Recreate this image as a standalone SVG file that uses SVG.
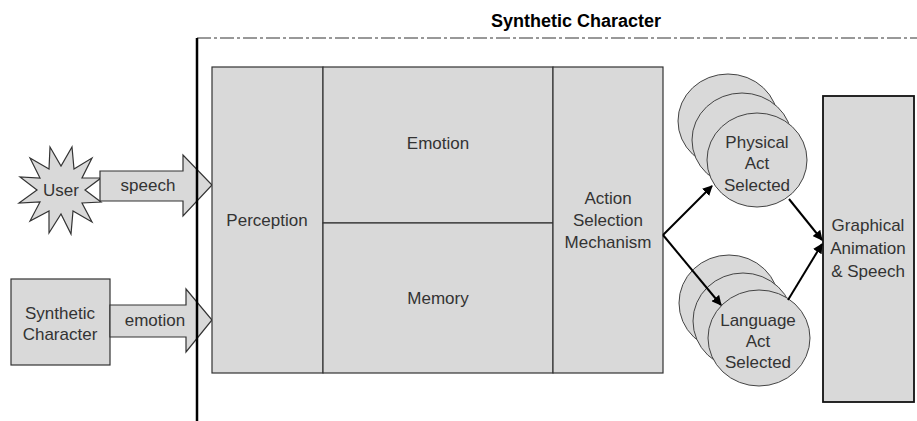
<svg xmlns="http://www.w3.org/2000/svg" width="917" height="421" viewBox="0 0 917 421">
<defs>
<style>
.box{fill:#d9d9d9;stroke:#333;stroke-width:1.2}
.t{font-family:"Liberation Sans",Arial,sans-serif;font-size:17px;fill:#333;text-anchor:middle}
.title{font-family:"Liberation Sans",Arial,sans-serif;font-size:18px;font-weight:bold;fill:#000;text-anchor:middle}
.conn{stroke:#000;stroke-width:2;fill:none;marker-end:url(#ah)}
.circ{fill:#d9d9d9;stroke:#444;stroke-width:1}
</style>
<marker id="ah" viewBox="0 0 10 10" refX="9" refY="5" markerWidth="5" markerHeight="5" orient="auto" markerUnits="strokeWidth">
<path d="M0,0 L10,5 L0,10 z" fill="#000"/>
</marker>
</defs>
<rect width="917" height="421" fill="#fff"/>

<g id="frame">
<text class="title" x="576" y="27" textLength="170" lengthAdjust="spacingAndGlyphs">Synthetic Character</text>
<line x1="197" y1="38" x2="917" y2="38" stroke="#333" stroke-width="1" stroke-dasharray="14 3 3 3"/>
</g>

<g id="user">
<polygon class="box" points="72,147 74,169 92,158 82,178 101,178 85,190 101,202 82,203 92,222 73,211 71,234 61,214 49,233 49,211 30,221 40,202 19,203 37,190 20,177 40,178 30,158 49,169 50,147 61,166"/>
<text class="t" x="61" y="196">User</text>
</g>

<g id="synthetic-character-ext">
<rect class="box" x="11" y="279" width="99" height="86"/>
<text class="t" x="60" y="319">Synthetic</text>
<text class="t" x="60" y="340">Character</text>
</g>

<g id="speech">
<polygon class="box" points="100,171 183,171 183,155 212,185 183,216 183,201 100,201"/>
<text class="t" x="148" y="191">speech</text>
</g>

<g id="emotion-input">
<polygon class="box" points="110,305 186,305 186,289 212,320 186,352 186,337 110,337"/>
<text class="t" x="155" y="326">emotion</text>
</g>

<line x1="197" y1="38" x2="197" y2="421" stroke="#000" stroke-width="2.5"/>

<g id="perception">
<rect class="box" x="212" y="67" width="111" height="306"/>
<text class="t" x="267" y="226">Perception</text>
</g>
<g id="emotion">
<rect class="box" x="323" y="67" width="230" height="156"/>
<text class="t" x="438" y="149">Emotion</text>
</g>
<g id="memory">
<rect class="box" x="323" y="223" width="230" height="150"/>
<text class="t" x="438" y="304">Memory</text>
</g>
<g id="action-selection">
<rect class="box" x="553" y="67" width="110" height="306"/>
<text class="t" x="608" y="204">Action</text>
<text class="t" x="608" y="226">Selection</text>
<text class="t" x="608" y="248">Mechanism</text>
</g>

<g id="physical-act">
<ellipse class="circ" cx="728" cy="121" rx="50" ry="47"/>
<ellipse class="circ" cx="742" cy="140" rx="50" ry="47"/>
<ellipse class="circ" cx="757" cy="160" rx="50" ry="47"/>
<text class="t" x="757" y="148">Physical</text>
<text class="t" x="757" y="169">Act</text>
<text class="t" x="757" y="191">Selected</text>
</g>

<g id="language-act">
<ellipse class="circ" cx="729" cy="303" rx="50" ry="48"/>
<ellipse class="circ" cx="743" cy="321" rx="50" ry="48"/>
<ellipse class="circ" cx="759" cy="338" rx="51" ry="48"/>
<text class="t" x="758" y="326">Language</text>
<text class="t" x="758" y="347">Act</text>
<text class="t" x="758" y="368">Selected</text>
</g>

<g id="graphical">
<rect x="823" y="96" width="91" height="306" fill="#d9d9d9" stroke="#111" stroke-width="1.8"/>
<text class="t" x="868" y="231">Graphical</text>
<text class="t" x="868" y="254">Animation</text>
<text class="t" x="868" y="277">&amp; Speech</text>
</g>

<g id="connectors">
<line class="conn" x1="663" y1="235" x2="712" y2="186"/>
<line class="conn" x1="663" y1="235" x2="721" y2="305"/>
<line class="conn" x1="789" y1="199" x2="822" y2="240"/>
<line class="conn" x1="788" y1="300" x2="822" y2="244"/>
</g>
</svg>
